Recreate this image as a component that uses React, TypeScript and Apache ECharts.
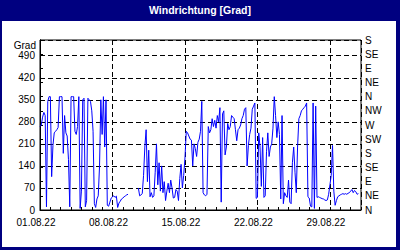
import React, { useEffect, useRef } from "react";
import * as echarts from "echarts";

const titleText = "Windrichtung [Grad]";
const unitLabel = "Grad";
const dateLabels = ["01.08.22", "08.08.22", "15.08.22", "22.08.22", "29.08.22"];
const dirLabels = ["N", "NE", "E", "SE", "S", "SW", "W", "NW", "N", "NE", "E", "SE", "S"];
const stepHours = 3; // one reading every 3 hours starting 01.08.22 00:00
const totalHours = 744; // 31 days
// wind direction in degrees, per 3 hours
const windDir: (number | null)[] = [
  265, 270, 295, 310, 300, 10, 345, 360,
  360, 106, 205, 245, 250, 255, 262, 360,
  360, 360, 180, 300, 245, 235, 160, 10,
  360, 360, 360, 250, 240, 265, 360, 5,
  60, 350, 355, 10, 30, 355, 350, 345,
  315, 250, 20, 8, 35, 45, 140, 350,
  240, 360, 200, 350, 15, 12, 25, 38,
  42, 45, 40, 44, 8, 22, 28, 35,
  38, 42, 45, 48, 50, null, null, null,
  null, null, null, null, 70, 45, 48, 52,
  110, 200, 255, 90, 190, 42, 55, 40,
  45, 120, 210, 80, 150, 60, 140, 55,
  90, 30, 60, 85, 55, 95, 70, 38,
  40, 65, 60, 30, 100, 145, 70, 110,
  165, 250, 245, 235, 225, 222, 140, 210,
  195, 170, 215, 225, 250, 345, 55, 48,
  45, 50, 265, 245, 255, 290, 265, 285,
  260, 300, 280, 325, 25, 305, 315, 175,
  200, 275, 255, 265, 300, 295, 290, 255,
  220, 255, 260, 270, 290, 300, 320, 325,
  140, 205, 240, 260, 320, 330, 340, 37,
  40, 245, 200, 75, 230, 40, 45, 185,
  245, 170, 200, 210, 260, 360, 300, 230,
  280, 240, 35, 300, 20, 55, 45, 40,
  95, 25, 20, 150, 200, 120, 55, 200,
  290, 300, 315, 320, 325, 330, 340, 42,
  38, 12, 10, 340, 5, 330, 40, 42,
  40, 38, 36, 35, 32, 30, 32, 50,
  80, 110, 205, 60, 15, 30, 42, 45,
  48, 50, 52, 50, 52, 50, 53, 55,
  60, 65, 55, 62, 58, 50, 52,
];

const FONT = "Liberation Sans";
const NAVY = "#000080";

export default function App() {
  const ref = useRef<HTMLDivElement>(null);
  useEffect(() => {
    document.body.style.margin = "0";
    if (!ref.current) return;
    const chart = echarts.init(ref.current, null, { renderer: "svg" });
    const seriesData = windDir.map((v, i) => [i * stepHours, v]);
    chart.setOption({
      animation: false,
      backgroundColor: NAVY,
      textStyle: { fontFamily: FONT },
      graphic: [
        {
          type: "rect",
          z: -10,
          silent: true,
          shape: { x: 2, y: 21, width: 394, height: 226 },
          style: { fill: "#ffffff" },
        },
        {
          type: "text",
          x: 200,
          y: 10,
          style: {
            text: titleText,
            fill: "#ffffff",
            font: `bold 10.5px "${FONT}"`,
            align: "center",
            verticalAlign: "middle",
          },
        },
        {
          type: "text",
          x: 36,
          y: 45,
          style: {
            text: unitLabel,
            fill: "#000",
            font: `10px "${FONT}"`,
            align: "right",
            verticalAlign: "middle",
          },
        },
      ],
      grid: {
        left: 40,
        right: 39,
        top: 40,
        bottom: 40,
        show: true,
        backgroundColor: "#ffffff",
        borderColor: "#000",
        borderWidth: 1,
      },
      xAxis: [
        {
          type: "value",
          position: "bottom",
          min: 0,
          max: totalHours,
          interval: 168,
          axisLine: { show: true, lineStyle: { color: "#000", width: 1 } },
          axisTick: { show: false },
          axisLabel: {
            color: "#000",
            fontSize: 10,
            fontFamily: FONT,
            margin: 7,
            padding: [0, 8, 0, 0],
            formatter: (v: number) => {
              const idx = Math.round(v / 168);
              return v < totalHours && dateLabels[idx] ? dateLabels[idx] : "";
            },
          },
          splitLine: { show: true, lineStyle: { color: "#000", type: [5, 3], width: 1 } },
        },
        {
          type: "value",
          position: "bottom",
          min: 0,
          max: totalHours,
          interval: 24,
          axisLine: { show: false },
          axisTick: { show: true, inside: true, length: 3, lineStyle: { color: "#000" } },
          axisLabel: { show: false },
          splitLine: { show: false },
        },
      ],
      yAxis: [
        {
          type: "value",
          position: "left",
          min: 0,
          max: 540,
          interval: 70,
          axisLine: { show: true, lineStyle: { color: "#000" } },
          axisTick: { show: false },
          axisLabel: {
            color: "#000",
            fontSize: 10,
            fontFamily: FONT,
            margin: 5,
            formatter: (v: number) => (v >= 540 ? "" : String(v)),
          },
          splitLine: { show: true, lineStyle: { color: "#000", type: [5, 3], width: 1 } },
        },
        {
          type: "value",
          position: "right",
          min: 0,
          max: 540,
          interval: 45,
          axisLine: { show: true, lineStyle: { color: "#000" } },
          axisTick: { show: true, length: 3, lineStyle: { color: "#000" } },
          axisLabel: {
            color: "#000",
            fontSize: 10,
            fontFamily: FONT,
            margin: 4,
            formatter: (v: number) => dirLabels[Math.round(v / 45)] ?? "",
          },
          splitLine: { show: false },
        },
      ],
      series: [
        {
          type: "line",
          xAxisIndex: 0,
          yAxisIndex: 0,
          data: seriesData,
          showSymbol: false,
          symbol: "none",
          connectNulls: false,
          lineStyle: { color: "#0000ff", width: 1 },
          z: 5,
        },
      ],
    });
    return () => chart.dispose();
  }, []);
  return <div ref={ref} style={{ width: 400, height: 250, position: "absolute", left: 0, top: 0 }} />;
}
